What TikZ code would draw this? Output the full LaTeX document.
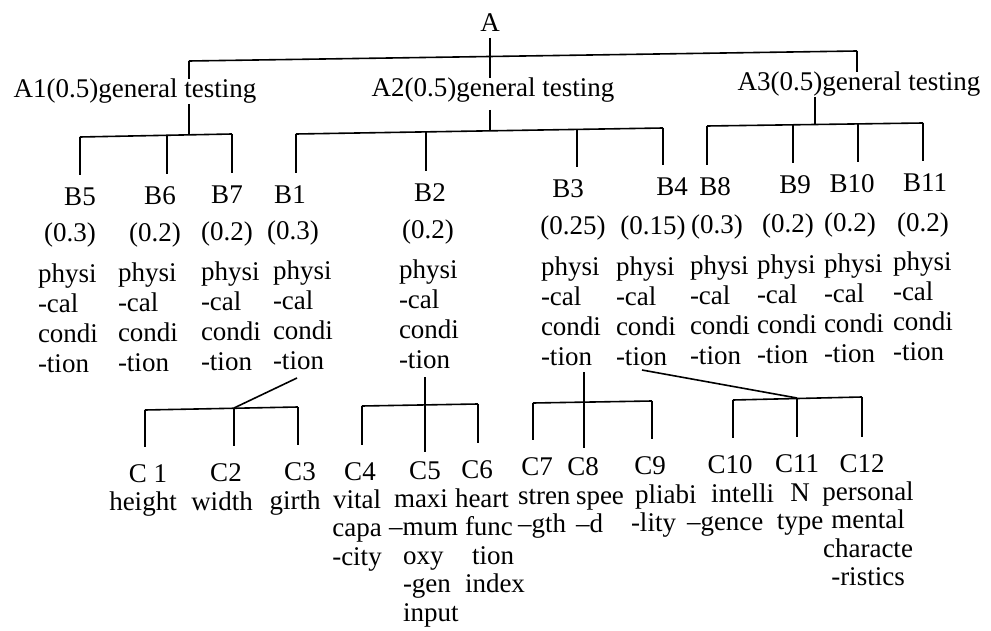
\documentclass[tikz,border=0pt]{standalone}
\usepackage{fontspec}
\setmainfont{Liberation Serif}
\newcommand\tallstrut{\rule{0pt}{20pt}}
\newcommand\physblock{\tallstrut physi\\-cal\\condi\\-tion}
\begin{document}
\begin{tikzpicture}[x=1pt,y=-1pt,
  every node/.style={inner sep=0pt, outer sep=0pt, font=\fontsize{27}{30}\selectfont},
  lbl/.style={anchor=base},
  blk/.style={anchor=north west, align=left},
  nmc/.style={anchor=north, align=center, font=\fontsize{27}{28.5}\selectfont},
  nml/.style={anchor=north west, align=left, font=\fontsize{27}{28.5}\selectfont},
  conn/.style={line width=1.6pt},
  tob/.style={conn, shorten >=13pt},
  toc/.style={conn, shorten >=17pt},
]
\useasboundingbox (0,0) rectangle (991,631);

% ---- level A ----
\node[lbl] (A)  at (490,32) {A};
\node[lbl] (A1) at (135,98) {A1(0.5)general testing};
\node[lbl] (A2) at (493,97) {A2(0.5)general testing};
\node[lbl] (A3) at (859,91) {A3(0.5)general testing};

% ---- level B labels ----
\node[lbl] (B5)  at (80,206)  {B5};
\node[lbl] (B6)  at (160,205) {B6};
\node[lbl] (B7)  at (227,204) {B7};
\node[lbl] (B1)  at (290,204) {B1};
\node[lbl] (B2)  at (430,202) {B2};
\node[lbl] (B3)  at (568,198) {B3};
\node[lbl] (B4)  at (672,196) {B4};
\node[lbl] (B8)  at (715,196) {B8};
\node[lbl] (B9)  at (795,194) {B9};
\node[lbl] (B10) at (852,193) {B10};
\node[lbl] (B11) at (925,192) {B11};

% ---- weights ----
\node[lbl] (w5)  at (70,242)  {(0.3)};
\node[lbl] (w6)  at (155,242) {(0.2)};
\node[lbl] (w7)  at (227,241) {(0.2)};
\node[lbl] (w1)  at (293,240) {(0.3)};
\node[lbl] (w2)  at (428,239) {(0.2)};
\node[lbl] (w3)  at (573,235) {(0.25)};
\node[lbl] (w4)  at (653,235) {(0.15)};
\node[lbl] (w8)  at (717,234) {(0.3)};
\node[lbl] (w9)  at (788,233) {(0.2)};
\node[lbl] (w10) at (850,232) {(0.2)};
\node[lbl] (w11) at (923,232) {(0.2)};

% ---- physical condition blocks ----
\node[blk] (t5)  at (38,262)  {\physblock};
\node[blk] (t6)  at (118,261) {\physblock};
\node[blk] (t7)  at (201,260) {\physblock};
\node[blk] (t1)  at (273,259) {\physblock};
\node[blk] (t2)  at (399,258) {\physblock};
\node[blk] (t3)  at (541,255) {\physblock};
\node[blk] (t4)  at (616,255) {\physblock};
\node[blk] (t8)  at (690,254) {\physblock};
\node[blk] (t9)  at (757,253) {\physblock};
\node[blk] (t10) at (824,252) {\physblock};
\node[blk] (t11) at (893,250) {\physblock};

% ---- level C labels ----
\node[lbl] (C1)  at (148,482) {C 1};
\node[lbl] (C2)  at (226,481) {C2};
\node[lbl] (C3)  at (300,480) {C3};
\node[lbl] (C4)  at (360,480) {C4};
\node[lbl] (C5)  at (425,479) {C5};
\node[lbl] (C6)  at (477,478) {C6};
\node[lbl] (C7)  at (537,475) {C7};
\node[lbl] (C8)  at (583,475) {C8};
\node[lbl] (C9)  at (650,474) {C9};
\node[lbl] (C10) at (730,473) {C10};
\node[lbl] (C11) at (797,472) {C11};
\node[lbl] (C12) at (862,472) {C12};

% ---- level C names ----
\node[lbl] (n1) at (143,510) {height};
\node[lbl] (n2) at (222,510) {width};
\node[lbl] (n3) at (295,509) {girth};
\node[nmc] (n4)  at (357,488) {\tallstrut vital\\capa\\-city};
\node[nml] (n5)  at (389,487) {\tallstrut\hspace*{5pt}maxi\\–mum\\\hspace*{14pt}oxy\\\hspace*{14pt}-gen\\\hspace*{14pt}input};
\node[nml] (n6)  at (455,487) {\tallstrut heart\\\hspace*{10pt}func\\\hspace*{17pt}tion\\\hspace*{10pt}index};
\node[nml] (n7)  at (518,484) {\tallstrut stren\\–gth};
\node[nml] (n8)  at (576,484) {\tallstrut spee\\–d};
\node[nml] (n9)  at (631,483) {\tallstrut\hspace*{4pt}pliabi\\-lity};
\node[nml] (n10) at (687,482) {\tallstrut\hspace*{24pt}intelli\\–gence};
\node[nmc] (n11) at (800,481) {\tallstrut N\\type};
\node[nmc] (n12) at (868,480) {\tallstrut personal\\mental\\characte\\-ristics};

% ---- connectors A level ----
\coordinate (ta1) at (189,61);
\coordinate (ta3) at (857,51);
\draw[conn, shorten <=6pt] (A.south) -- (A.south |- A2.north);
\draw[conn] (ta1) -- (ta3);
\draw[conn] (ta1) -- (ta1 |- A1.north);
\draw[conn] (ta3) -- (ta3 |- A3.north);

% A1 -> B5 B6 B7
\coordinate (j1) at (189,135.5);
\coordinate (b5j) at (80,137);
\coordinate (b6j) at (167,135.5);
\coordinate (b7j) at (232,134);
\draw[conn] (j1 |- A1.south) -- (j1);
\draw[conn] (b5j) -- (b7j);
\draw[tob] (b5j) -- (b5j |- B5.north);
\draw[tob] (b6j) -- (b6j |- B6.north);
\draw[tob] (b7j) -- (b7j |- B7.north);

% A2 -> B1 B2 B3 B4
\coordinate (j2) at (490,131.5);
\coordinate (b1j) at (296,134);
\coordinate (b2j) at (426,132);
\coordinate (b3j) at (577,130);
\coordinate (b4j) at (663,128);
\draw[conn, shorten <=7pt] (j2 |- A2.south) -- (j2);
\draw[conn] (b1j) -- (b4j);
\draw[tob] (b1j) -- (b1j |- B1.north);
\draw[tob] (b2j) -- (b2j |- B2.north);
\draw[tob] (b3j) -- (b3j |- B3.north);
\draw[tob] (b4j) -- (b4j |- B4.north);

% A3 -> B8 B9 B10 B11
\coordinate (j3) at (815,125);
\coordinate (b8j) at (707,126);
\coordinate (b9j) at (793,125);
\coordinate (b10j) at (858,124);
\coordinate (b11j) at (923,123);
\draw[conn] (j3 |- A3.south) -- (j3);
\draw[conn] (b8j) -- (b11j);
\draw[tob] (b8j) -- (b8j |- B8.north);
\draw[tob] (b9j) -- (b9j |- B9.north);
\draw[tob] (b10j) -- (b10j |- B10.north);
\draw[tob] (b11j) -- (b11j |- B11.north);

% ---- connectors C level ----
% B1 -> C1 C2 C3
\coordinate (d1s) at (297,378);
\coordinate (c2j) at (234,408);
\coordinate (c1j) at (145,410);
\coordinate (c3j) at (298,407);
\draw[conn] (d1s) -- (c2j);
\draw[conn] (c1j) -- (c3j);
\draw[toc] (c1j) -- (c1j |- C1.north);
\draw[toc] (c2j) -- (c2j |- C2.north);
\draw[toc] (c3j) -- (c3j |- C3.north);

% B2 -> C4 C5 C6
\coordinate (c5j) at (425,405);
\coordinate (c4j) at (362,406);
\coordinate (c6j) at (478,404);
\draw[conn, shorten <=9pt, shorten >=9pt] (c5j |- t2.south) -- (c5j |- C5.north);
\draw[conn] (c4j) -- (c6j);
\draw[toc] (c4j) -- (c4j |- C4.north);
\draw[toc] (c6j) -- (c6j |- C6.north);

% B3 -> C7 C8 C9
\coordinate (c8j) at (584,402);
\coordinate (c7j) at (533,403);
\coordinate (c9j) at (652,401);
\draw[conn, shorten <=7pt, shorten >=9pt] (c8j |- t3.south) -- (c8j |- C8.north);
\draw[conn] (c7j) -- (c9j);
\draw[toc] (c7j) -- (c7j |- C7.north);
\draw[toc] (c9j) -- (c9j |- C9.north);

% B4 -> C10 C11 C12
\coordinate (d4s) at (642,370);
\coordinate (c11j) at (797,398);
\coordinate (c10j) at (733,400);
\coordinate (c12j) at (862,397);
\draw[conn] (d4s) -- (c11j);
\draw[conn] (c10j) -- (c12j);
\draw[toc] (c10j) -- (c10j |- C10.north);
\draw[toc] (c11j) -- (c11j |- C11.north);
\draw[toc] (c12j) -- (c12j |- C12.north);
\end{tikzpicture}
\end{document}
